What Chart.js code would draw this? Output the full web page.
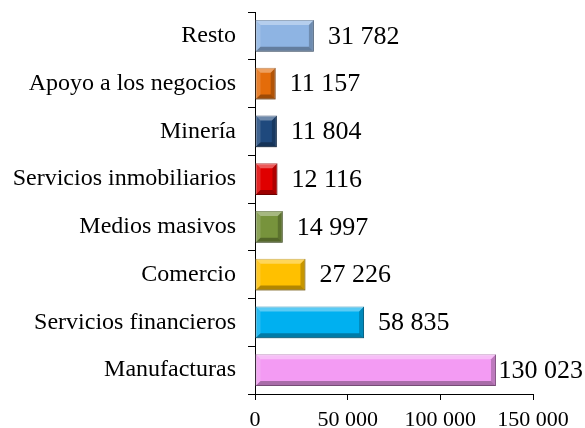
<!DOCTYPE html>
<html>
<head>
<meta charset="utf-8">
<script src="https://cdn.jsdelivr.net/npm/chart.js@4/dist/chart.umd.min.js"></script>
<style>
  html, body { margin: 0; padding: 0; background: #fff; }
  #wrap { width: 585px; height: 428px; position: relative; }
</style>
</head>
<body>
<div id="wrap"><canvas id="chart"></canvas></div>
<script>
// Data (top to bottom)
const sectors = ['Resto', 'Apoyo a los negocios', 'Minería', 'Servicios inmobiliarios',
  'Medios masivos', 'Comercio', 'Servicios financieros', 'Manufacturas'];
const amounts = [31782, 11157, 11804, 12116, 14997, 27226, 58835, 130023];
const barColors = ['#8EB4E3', '#E46C0A', '#1F497D', '#E00000', '#77933C', '#FFC000', '#00B0F0', '#F39BF3'];
const xTicks = [0, 50000, 100000, 150000];

const serif = '"Liberation Serif", "Times New Roman", serif';
const fmt = v => String(v).replace(/\B(?=(\d{3})+(?!\d))/g, ' ');

// darken a hex colour
function shade(hex, f) {
  const n = parseInt(hex.slice(1), 16);
  const r = Math.round(((n >> 16) & 255) * f);
  const g = Math.round(((n >> 8) & 255) * f);
  const b = Math.round((n & 255) * f);
  return `rgb(${r},${g},${b})`;
}

// bevel look on each bar
const bevelPlugin = {
  id: 'bevel',
  afterDatasetsDraw(chart) {
    const ctx = chart.ctx;
    chart.getDatasetMeta(0).data.forEach(bar => {
      const { x, y, base, height } = bar.getProps(['x', 'y', 'base', 'height'], true);
      const l = base, r = x, t = y - height / 2, b = y + height / 2;
      const k = Math.min(5, (r - l) / 3);
      ctx.save();
      // top
      ctx.fillStyle = 'rgba(255,255,255,0.35)';
      ctx.beginPath(); ctx.moveTo(l, t); ctx.lineTo(r, t); ctx.lineTo(r - k, t + k); ctx.lineTo(l + k, t + k); ctx.closePath(); ctx.fill();
      // left
      ctx.fillStyle = 'rgba(255,255,255,0.15)';
      ctx.beginPath(); ctx.moveTo(l, t); ctx.lineTo(l + k, t + k); ctx.lineTo(l + k, b - k); ctx.lineTo(l, b); ctx.closePath(); ctx.fill();
      // bottom
      ctx.fillStyle = 'rgba(0,0,0,0.3)';
      ctx.beginPath(); ctx.moveTo(l, b); ctx.lineTo(r, b); ctx.lineTo(r - k, b - k); ctx.lineTo(l + k, b - k); ctx.closePath(); ctx.fill();
      // right
      ctx.fillStyle = 'rgba(0,0,0,0.22)';
      ctx.beginPath(); ctx.moveTo(r, t); ctx.lineTo(r, b); ctx.lineTo(r - k, b - k); ctx.lineTo(r - k, t + k); ctx.closePath(); ctx.fill();
      ctx.restore();
    });
  }
};

// value labels at bar end
const valuePlugin = {
  id: 'values',
  afterDatasetsDraw(chart) {
    const ctx = chart.ctx;
    ctx.save();
    ctx.font = '26px ' + serif;
    ctx.fillStyle = '#000';
    ctx.textAlign = 'left';
    ctx.textBaseline = 'middle';
    chart.getDatasetMeta(0).data.forEach((bar, i) => {
      const txt = fmt(amounts[i]);
      const w = ctx.measureText(txt).width;
      const tx = Math.min(bar.x + 14, chart.width - w - 2);
      ctx.fillText(txt, tx, bar.y + 1);
    });
    ctx.restore();
  }
};

new Chart(document.getElementById('chart'), {
  type: 'bar',
  data: {
    labels: sectors,
    datasets: [{
      data: amounts,
      backgroundColor: barColors,
      borderColor: barColors.map(c => shade(c, 0.7)),
      borderWidth: 1,
      borderSkipped: false,
      categoryPercentage: 1,
      barPercentage: 0.66
    }]
  },
  options: {
    indexAxis: 'y',
    responsive: true,
    maintainAspectRatio: false,
    animation: false,
    layout: { padding: { top: 12, right: 52, left: 0, bottom: 0 } },
    plugins: { legend: { display: false }, tooltip: { enabled: false } },
    scales: {
      x: {
        min: 0,
        max: 150000,
        afterBuildTicks: s => { s.ticks = xTicks.map(v => ({ value: v })); },
        afterFit: s => { s.height = 34; s.paddingLeft = 0; s.paddingRight = 0; },
        ticks: {
          color: '#000',
          font: { family: serif, size: 22 },
          padding: 7,
          maxRotation: 0,
          callback: v => fmt(v)
        },
        grid: { drawOnChartArea: false, drawTicks: true, tickLength: 6, color: '#000' },
        border: { color: '#000', width: 1 }
      },
      y: {
        afterFit: s => { s.width = 255; s.paddingTop = 0; s.paddingBottom = 0; },
        ticks: {
          color: '#000',
          font: { family: serif, size: 24 },
          padding: 12
        },
        grid: { drawOnChartArea: false, drawTicks: true, tickLength: 7, offset: true, color: '#000' },
        border: { color: '#000', width: 1 }
      }
    }
  },
  plugins: [bevelPlugin, valuePlugin]
});
</script>
</body>
</html>
